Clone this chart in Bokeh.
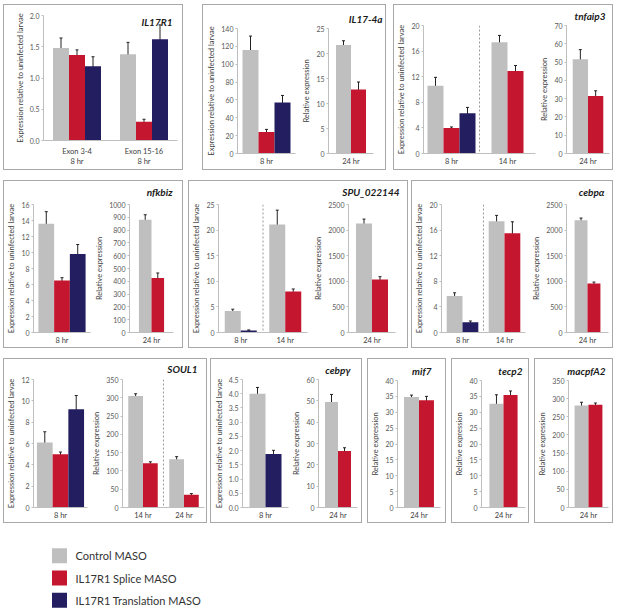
from bokeh.plotting import figure
from bokeh.models import (FactorRange, Range1d, SingleIntervalTicker, Span,
                          Whisker, ColumnDataSource, TeeHead, PrintfTickFormatter)
from bokeh.layouts import row, column
from bokeh.embed import file_html
from bokeh.resources import INLINE
from bokeh.core.properties import value

FONT = "Lato"
C_CTRL, C_SPLICE, C_TRANS = "#BFBFBF", "#C4172F", "#231E60"
AXIS = "#BFBFBF"
BOX = "1px solid #A8A8A8"

SERIES = ["Control MASO", "IL17R1 Splice MASO", "IL17R1 Translation MASO"]
SERIES_COLORS = [C_CTRL, C_SPLICE, C_TRANS]

# ---------------- data (mean, error) ----------------
IL17R1_cats = ["Exon 3-4\n8 hr", "Exon 15-16\n8 hr"]
IL17R1_ctrl = [1.48, 1.38]
IL17R1_ctrl_err = [0.16, 0.19]
IL17R1_splice = [1.37, 0.30]
IL17R1_splice_err = [0.08, 0.04]
IL17R1_trans = [1.19, 1.62]
IL17R1_trans_err = [0.15, 0.23]

IL174a_a_cats = ["8 hr"]
IL174a_a_ctrl = [116.0]
IL174a_a_ctrl_err = [15.5]
IL174a_a_splice = [24.0]
IL174a_a_splice_err = [3.0]
IL174a_a_trans = [57.0]
IL174a_a_trans_err = [8.0]
IL174a_b_cats = ["24 hr"]
IL174a_b_ctrl = [21.7]
IL174a_b_ctrl_err = [0.85]
IL174a_b_splice = [12.8]
IL174a_b_splice_err = [1.5]

tnfaip3_a_cats = ["8 hr", "14 hr"]
tnfaip3_a_ctrl = [10.6, 17.4]
tnfaip3_a_ctrl_err = [1.3, 1.05]
tnfaip3_a_splice = [4.0, 12.9]
tnfaip3_a_splice_err = [0.15, 0.85]
tnfaip3_a_trans = [6.3, None]
tnfaip3_a_trans_err = [0.9, None]
tnfaip3_b_cats = ["24 hr"]
tnfaip3_b_ctrl = [51.5]
tnfaip3_b_ctrl_err = [5.3]
tnfaip3_b_splice = [31.5]
tnfaip3_b_splice_err = [2.8]

nfkbiz_a_cats = ["8 hr"]
nfkbiz_a_ctrl = [13.6]
nfkbiz_a_ctrl_err = [1.5]
nfkbiz_a_splice = [6.5]
nfkbiz_a_splice_err = [0.35]
nfkbiz_a_trans = [9.8]
nfkbiz_a_trans_err = [1.2]
nfkbiz_b_cats = ["24 hr"]
nfkbiz_b_ctrl = [880.0]
nfkbiz_b_ctrl_err = [40.0]
nfkbiz_b_splice = [425.0]
nfkbiz_b_splice_err = [40.0]

SPU_a_cats = ["8 hr", "14 hr"]
SPU_a_ctrl = [4.2, 21.1]
SPU_a_ctrl_err = [0.35, 2.8]
SPU_a_splice = [None, 8.0]
SPU_a_splice_err = [None, 0.5]
SPU_a_trans = [0.4, None]
SPU_a_trans_err = [0.1, None]
SPU_b_cats = ["24 hr"]
SPU_b_ctrl = [2130.0]
SPU_b_ctrl_err = [85.0]
SPU_b_splice = [1035.0]
SPU_b_splice_err = [55.0]

cebpa_a_cats = ["8 hr", "14 hr"]
cebpa_a_ctrl = [5.7, 17.4]
cebpa_a_ctrl_err = [0.5, 0.9]
cebpa_a_splice = [None, 15.5]
cebpa_a_splice_err = [None, 1.8]
cebpa_a_trans = [1.6, None]
cebpa_a_trans_err = [0.2, None]
cebpa_b_cats = ["24 hr"]
cebpa_b_ctrl = [2190.0]
cebpa_b_ctrl_err = [45.0]
cebpa_b_splice = [955.0]
cebpa_b_splice_err = [30.0]

SOUL1_a_cats = ["8 hr"]
SOUL1_a_ctrl = [6.1]
SOUL1_a_ctrl_err = [1.0]
SOUL1_a_splice = [5.0]
SOUL1_a_splice_err = [0.2]
SOUL1_a_trans = [9.2]
SOUL1_a_trans_err = [1.3]
SOUL1_b_cats = ["14 hr", "24 hr"]
SOUL1_b_ctrl = [305.0, 132.0]
SOUL1_b_ctrl_err = [6.0, 7.0]
SOUL1_b_splice = [121.0, 35.0]
SOUL1_b_splice_err = [4.0, 3.0]

cebpg_a_cats = ["8 hr"]
cebpg_a_ctrl = [4.0]
cebpg_a_ctrl_err = [0.22]
cebpg_a_trans = [1.88]
cebpg_a_trans_err = [0.13]
cebpg_b_cats = ["24 hr"]
cebpg_b_ctrl = [49.5]
cebpg_b_ctrl_err = [3.5]
cebpg_b_splice = [26.5]
cebpg_b_splice_err = [1.5]

mif7_cats = ["24 hr"]
mif7_ctrl = [34.8]
mif7_ctrl_err = [0.6]
mif7_splice = [33.8]
mif7_splice_err = [1.2]

tecp2_cats = ["24 hr"]
tecp2_ctrl = [32.7]
tecp2_ctrl_err = [2.8]
tecp2_splice = [35.4]
tecp2_splice_err = [1.3]

macpfA2_cats = ["24 hr"]
macpfA2_ctrl = [281.0]
macpfA2_ctrl_err = [9.0]
macpfA2_splice = [283.0]
macpfA2_splice_err = [5.0]

YL_MAIN = "Expression relative to uninfected larvae"
YL_REL = "Relative expression"

TITLE_H = 14  # approx. height taken by a 10px title box (text + 2px)


def sub(cx, fx, cy, fy, cats, series, ymax, step, ylabel=None, fmt=None,
        divider=False, title=None, title_at=None, title_inside=False, xstand=3):
    p = figure(width=cx[1] - cx[0], height=cy[1] - cy[0],
               x_range=FactorRange(*cats), y_range=Range1d(0, ymax),
               output_backend="svg", toolbar_location=None,
               min_border_left=fx[0] - cx[0], min_border_right=cx[1] - fx[1],
               min_border_top=fy[0] - cy[0], min_border_bottom=cy[1] - fy[1],
               outline_line_color=None)
    cat_px = (fx[1] - fx[0]) / len(cats)
    bar_w = 16.0 / cat_px
    xs, tops, cols, los, his = [], [], [], [], []
    for i, c in enumerate(cats):
        present = [(vals[i], errs[i], col) for vals, errs, col in series
                   if vals is not None and vals[i] is not None]
        n = len(present)
        for k, (v, e, col) in enumerate(present):
            xs.append((c, (k - (n - 1) / 2.0) * bar_w))
            tops.append(v)
            cols.append(col)
            los.append(v - e)
            his.append(v + e)
    src = ColumnDataSource(dict(x=xs, top=tops, color=cols, lo=los, hi=his))
    p.vbar(x="x", top="top", bottom=0, width=bar_w, fill_color="color",
           line_color=None, source=src)
    p.add_layout(Whisker(source=src, base="x", lower="lo", upper="hi",
                         line_color="#222222", line_width=1,
                         upper_head=TeeHead(size=3, line_color="#222222", line_width=1),
                         lower_head=TeeHead(size=3, line_color="#222222", line_width=1)))
    if divider:
        p.add_layout(Span(location=1, dimension="height", line_color="#9A9A9A",
                          line_dash="2 2", line_width=1))
    p.xgrid.visible = False
    p.ygrid.visible = False
    p.xaxis.major_tick_line_color = None
    p.xaxis.major_tick_out = 0
    p.xaxis.major_tick_in = 0
    p.xaxis.minor_tick_line_color = None
    p.xaxis.axis_line_color = AXIS
    p.xaxis.major_label_text_font = FONT
    p.xaxis.major_label_text_font_size = "7.5px"
    p.xaxis.major_label_text_color = "#404040"
    p.xaxis.major_label_standoff = xstand
    p.yaxis.ticker = SingleIntervalTicker(interval=step, num_minor_ticks=0)
    if fmt:
        p.yaxis.formatter = PrintfTickFormatter(format=fmt)
    p.yaxis.axis_line_color = AXIS
    p.yaxis.major_tick_line_color = AXIS
    p.yaxis.major_tick_out = 2
    p.yaxis.major_tick_in = 0
    p.yaxis.minor_tick_line_color = None
    p.yaxis.major_label_text_font = FONT
    p.yaxis.major_label_text_font_size = "7px"
    p.yaxis.major_label_text_color = "#595959"
    p.yaxis.major_label_standoff = 2
    if ylabel:
        p.yaxis.axis_label = ylabel
        p.yaxis.axis_label_text_font = FONT
        p.yaxis.axis_label_text_font_size = "7.5px"
        p.yaxis.axis_label_text_font_style = "normal"
        p.yaxis.axis_label_text_color = "#404040"
        p.yaxis.axis_label_standoff = 2
    if title:
        tx, ty = title_at
        if title_inside:
            off = (tx - fx[0]) / cat_px - (len(cats) - 0.5)
            p.text(x=[(cats[-1], off)], y=[ymax], text=[title],
                   text_align="right", text_baseline="top",
                   text_font=value(FONT), text_font_size="10px",
                   text_font_style="bold italic", text_color="#1A1A1A")
        else:
            border = fy[0] - cy[0]
            s = 2 * (ty - 6 - cy[0])
            s = max(0, min(s, border - TITLE_H))
            p.title.text = title
            p.title.align = "right"
            p.title.vertical_align = "top"
            p.title.offset = fx[1] - tx
            p.title.standoff = s
            p.title.text_font = FONT
            p.title.text_font_size = "10px"
            p.title.text_font_style = "bold italic"
            p.title.text_color = "#1A1A1A"
    return p


def S(*args):
    out = []
    for vals, errs, col in zip(args[0::3], args[1::3], args[2::3]):
        out.append((vals, errs, col))
    return out


def box(figs, left_gap):
    return row(*figs, styles={"border": BOX}, margin=(0, 0, 0, left_gap))


R1 = (5, 169)
R2 = (181, 347)
R3 = (359, 522)

# ---- Row 1 ----
b1 = box([sub((4, 182), (43, 177), R1, (15, 142), IL17R1_cats,
              S(IL17R1_ctrl, IL17R1_ctrl_err, C_CTRL, IL17R1_splice, IL17R1_splice_err, C_SPLICE,
                IL17R1_trans, IL17R1_trans_err, C_TRANS),
              2.0, 0.5, YL_MAIN, "%.1f", title="IL17R1", title_at=(172, 15),
              title_inside=True, xstand=6)], 0)
b2 = box([sub((203, 299), (237, 295), R1, (23, 153), IL174a_a_cats,
              S(IL174a_a_ctrl, IL174a_a_ctrl_err, C_CTRL, IL174a_a_splice, IL174a_a_splice_err, C_SPLICE,
                IL174a_a_trans, IL174a_a_trans_err, C_TRANS), 140, 20, YL_MAIN),
          sub((299, 385), (325, 373), R1, (28, 153), IL174a_b_cats,
              S(IL174a_b_ctrl, IL174a_b_ctrl_err, C_CTRL, IL174a_b_splice, IL174a_b_splice_err, C_SPLICE),
              25, 5, YL_REL, title="IL17-4a", title_at=(382, 13))], 19)
b3 = box([sub((394, 537), (423, 535), R1, (25, 153), tnfaip3_a_cats,
              S(tnfaip3_a_ctrl, tnfaip3_a_ctrl_err, C_CTRL, tnfaip3_a_splice, tnfaip3_a_splice_err, C_SPLICE,
                tnfaip3_a_trans, tnfaip3_a_trans_err, C_TRANS), 20, 4, YL_MAIN, divider=True),
          sub((537, 612), (564, 609), R1, (24, 153), tnfaip3_b_cats,
              S(tnfaip3_b_ctrl, tnfaip3_b_ctrl_err, C_CTRL, tnfaip3_b_splice, tnfaip3_b_splice_err, C_SPLICE),
              70, 10, YL_REL, title="tnfaip3", title_at=(605, 13))], 7)

# ---- Row 2 ----
b4 = box([sub((4, 92), (32, 90), R2, (204, 333), nfkbiz_a_cats,
              S(nfkbiz_a_ctrl, nfkbiz_a_ctrl_err, C_CTRL, nfkbiz_a_splice, nfkbiz_a_splice_err, C_SPLICE,
                nfkbiz_a_trans, nfkbiz_a_trans_err, C_TRANS), 16, 2, YL_MAIN),
          sub((92, 182), (117, 173), R2, (204, 333), nfkbiz_b_cats,
              S(nfkbiz_b_ctrl, nfkbiz_b_ctrl_err, C_CTRL, nfkbiz_b_splice, nfkbiz_b_splice_err, C_SPLICE),
              1000, 100, YL_REL, title="nfkbiz", title_at=(172, 192))], 0)
b5 = box([sub((189, 310), (218, 307), R2, (204, 332), SPU_a_cats,
              S(SPU_a_ctrl, SPU_a_ctrl_err, C_CTRL, SPU_a_splice, SPU_a_splice_err, C_SPLICE,
                SPU_a_trans, SPU_a_trans_err, C_TRANS), 25, 5, YL_MAIN, divider=True),
          sub((310, 407), (348, 395), R2, (204, 332), SPU_b_cats,
              S(SPU_b_ctrl, SPU_b_ctrl_err, C_CTRL, SPU_b_splice, SPU_b_splice_err, C_SPLICE),
              2500, 500, YL_REL, title="SPU_022144", title_at=(399, 192))], 5)
b6 = box([sub((412, 529), (440, 525), R2, (204, 332), cebpa_a_cats,
              S(cebpa_a_ctrl, cebpa_a_ctrl_err, C_CTRL, cebpa_a_splice, cebpa_a_splice_err, C_SPLICE,
                cebpa_a_trans, cebpa_a_trans_err, C_TRANS), 20, 4, YL_MAIN, divider=True),
          sub((529, 612), (556, 608), R2, (204, 332), cebpa_b_cats,
              S(cebpa_b_ctrl, cebpa_b_ctrl_err, C_CTRL, cebpa_b_splice, cebpa_b_splice_err, C_SPLICE),
              2500, 500, YL_REL, title="cebpα", title_at=(604, 192))], 3)

# ---- Row 3 ----
b7 = box([sub((4, 89), (32, 87), R3, (379, 507), SOUL1_a_cats,
              S(SOUL1_a_ctrl, SOUL1_a_ctrl_err, C_CTRL, SOUL1_a_splice, SOUL1_a_splice_err, C_SPLICE,
                SOUL1_a_trans, SOUL1_a_trans_err, C_TRANS), 12, 2, YL_MAIN),
          sub((89, 206), (115, 204), R3, (379, 507), SOUL1_b_cats,
              S(SOUL1_b_ctrl, SOUL1_b_ctrl_err, C_CTRL, SOUL1_b_splice, SOUL1_b_splice_err, C_SPLICE),
              350, 50, YL_REL, divider=True, title="SOUL1", title_at=(197, 369))], 0)
b8 = box([sub((211, 289), (242, 288), R3, (379, 507), cebpg_a_cats,
              S(cebpg_a_ctrl, cebpg_a_ctrl_err, C_CTRL, cebpg_a_trans, cebpg_a_trans_err, C_TRANS),
              4.5, 0.5, YL_MAIN, "%.1f"),
          sub((289, 361), (309, 357), R3, (379, 507), cebpg_b_cats,
              S(cebpg_b_ctrl, cebpg_b_ctrl_err, C_CTRL, cebpg_b_splice, cebpg_b_splice_err, C_SPLICE),
              60, 10, YL_REL, title="cebpγ", title_at=(350, 367))], 3)
b9 = box([sub((368, 445), (394, 440), R3, (380, 507), mif7_cats,
              S(mif7_ctrl, mif7_ctrl_err, C_CTRL, mif7_splice, mif7_splice_err, C_SPLICE),
              40, 5, YL_REL, title="mif7", title_at=(431, 367))], 5)
b10 = box([sub((452, 528), (475, 525), R3, (380, 507), tecp2_cats,
               S(tecp2_ctrl, tecp2_ctrl_err, C_CTRL, tecp2_splice, tecp2_splice_err, C_SPLICE),
               40, 5, YL_REL, title="tecp2", title_at=(522, 367))], 5)
b11 = box([sub((535, 612), (562, 608), R3, (380, 507), macpfA2_cats,
               S(macpfA2_ctrl, macpfA2_ctrl_err, C_CTRL, macpfA2_splice, macpfA2_splice_err, C_SPLICE),
               350, 50, YL_REL, title="macpfA2", title_at=(605, 367))], 5)

# ---- Legend ----
leg = figure(width=220, height=67, x_range=Range1d(0, 220),
             y_range=FactorRange(*reversed(SERIES)),
             output_backend="svg", toolbar_location=None,
             x_axis_location=None, y_axis_location=None,
             min_border=0, outline_line_color=None, margin=(21, 0, 0, 37))
leg.grid.visible = False
leg.scatter(x=[19] * len(SERIES), y=SERIES, marker="square", size=15,
            fill_color=SERIES_COLORS, line_color=None)
leg.text(x=[35] * len(SERIES), y=SERIES, text=SERIES, text_font=value(FONT),
         text_font_size="11px", text_baseline="middle", text_color="#333333")

layout = column(
    row(b1, b2, b3),
    row(b4, b5, b6, margin=(10, 0, 0, 0)),
    row(b7, b8, b9, b10, b11, margin=(10, 0, 0, 0)),
    leg,
    margin=(4, 0, 0, 3),
)

open("out.html", "w").write(file_html(layout, INLINE))
